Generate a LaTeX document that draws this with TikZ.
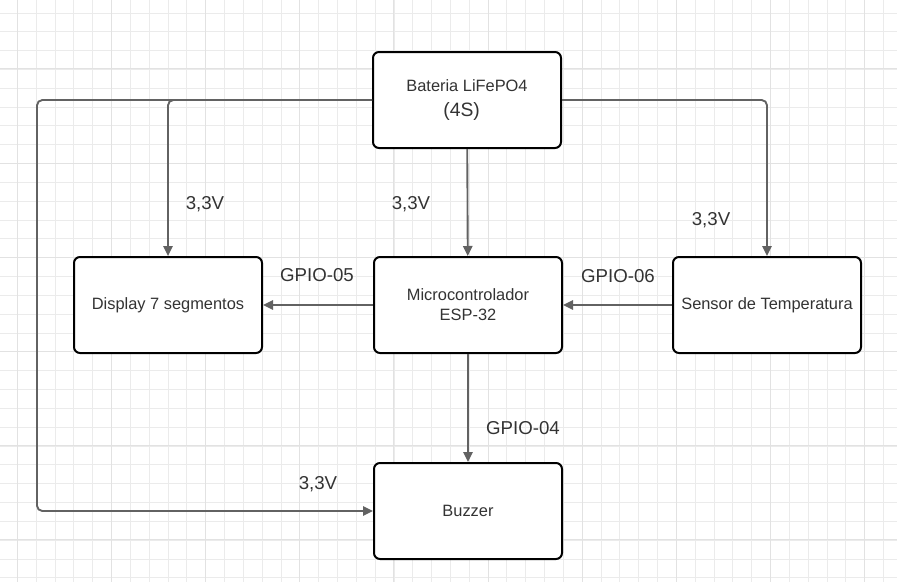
\documentclass[tikz,border=0pt]{standalone}
\usepackage{fontspec}
\setmainfont{Liberation Sans}
\usetikzlibrary{arrows.meta}
\definecolor{gridc}{HTML}{EBEBEB}
\definecolor{gridm}{HTML}{E2E2E2}
\definecolor{linec}{HTML}{626262}
\definecolor{textc}{HTML}{333333}

\begin{document}
\begin{tikzpicture}[x=0.75pt, y=-0.75pt]
        \tikzstyle{box}=[draw=black, line width=1.5pt, rounded corners=4.5pt, fill=white, text=textc, minimum width=141pt, minimum height=72pt, align=center, font=\fontsize{12.3}{15}\selectfont]
        \tikzstyle{wire}=[draw=linec, line width=1.4pt, rounded corners=4pt, -{Triangle[length=7.5pt, width=7pt]}]
        \tikzstyle{lbl}=[text=textc, font=\fontsize{14}{16}\selectfont]
        \useasboundingbox (0,0) rectangle (897,582);
        % grid
        \foreach \i in {0,...,47} \draw[gridc, line width=0.6pt] (17.3+18.83*\i,0) -- (17.3+18.83*\i,582);
        \foreach \i in {0,...,31} \draw[gridc, line width=0.6pt] (0,12.9+18.83*\i) -- (897,12.9+18.83*\i);
        \foreach \i in {0,...,9} \draw[gridm, line width=0.7pt] (17.3+94.15*\i,0) -- (17.3+94.15*\i,582);
        \foreach \i in {0,...,6} \draw[gridm, line width=0.7pt] (0,-25.3+94.15*\i) -- (897,-25.3+94.15*\i);
        % blocks
        \node[box] (bat) at (467,100) {Bateria LiFePO4\\[4pt]{\fontsize{14.5}{16}\selectfont\hspace*{-8pt}(4S)}};
        \node[box] (mcu) at (468,305) {Microcontrolador\\ESP-32};
        \node[box] (disp) at (168,305) {Display 7 segmentos};
        \node[box] (sen) at (767,305) {Sensor de Temperatura};
        \node[box] (buz) at (468,511) {Buzzer};
        \coordinate (lc) at (37,100);
        % connections
        \draw[wire] (bat) -- (mcu);
        \draw[wire] (bat.west) -| (disp.north);
        \draw[wire] (bat.west) -- (lc) |- (buz.west);
        \draw[wire] (bat.east) -| (sen.north);
        \draw[wire] (mcu) -- (disp);
        \draw[wire] (sen) -- (mcu);
        \draw[wire] (mcu) -- (buz);
        % labels
        \node[lbl] (v1) at (411,204) {3,3V};
        \node[lbl] (v2) at (205,204) {3,3V};
        \node[lbl] (v3) at (711,220) {3,3V};
        \node[lbl] (v4) at (318,484) {3,3V};
        \node[lbl] (g5) at (317,275) {GPIO-05};
        \node[lbl] (g6) at (618,276) {GPIO-06};
        \node[lbl] (g4) at (523,428) {GPIO-04};
    \end{tikzpicture}
\end{document}
